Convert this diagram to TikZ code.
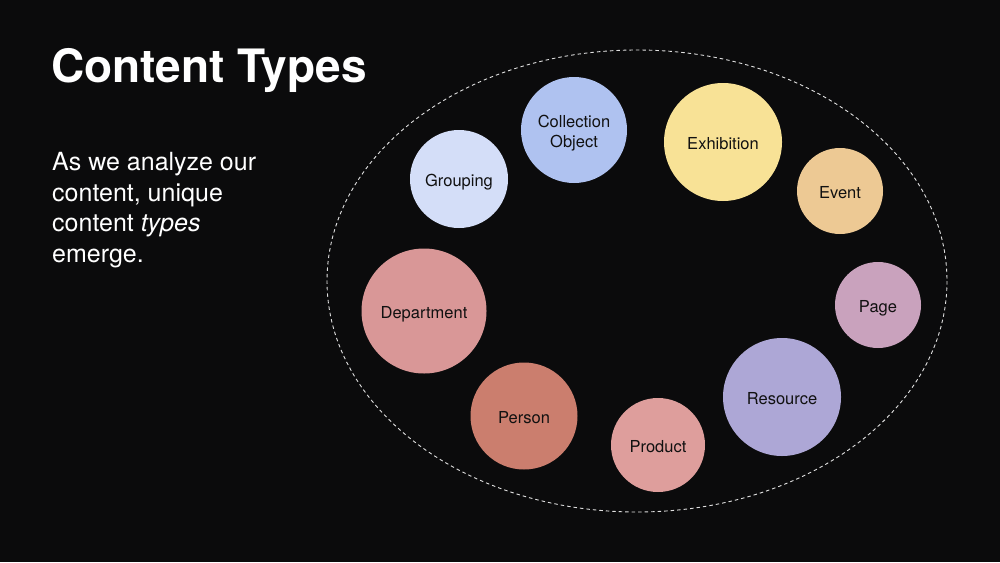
\documentclass[tikz,border=0pt]{standalone}
\usepackage{fontspec}
\setmainfont{TeX Gyre Heros}
\definecolor{bgc}{HTML}{0B0B0C}
\definecolor{cGroup}{HTML}{D4DEF8}
\definecolor{cColl}{HTML}{AFC2F0}
\definecolor{cExhib}{HTML}{F8E296}
\definecolor{cEvent}{HTML}{EDC994}
\definecolor{cPage}{HTML}{C9A2BD}
\definecolor{cRes}{HTML}{ADA7D6}
\definecolor{cProd}{HTML}{DE9E9C}
\definecolor{cPers}{HTML}{CB7E6E}
\definecolor{cDept}{HTML}{D99797}
\definecolor{ctext}{HTML}{111111}
\begin{document}
\begin{tikzpicture}[x=1pt,y=-1pt,
  ctype/.style={circle, inner sep=0pt, minimum size=#1, text=ctext,
    font=\fontsize{16.5}{20}\selectfont, align=center, text height=14pt, text depth=0pt},
  ring/.style={draw=white!88!black, line width=0.9pt, dash pattern=on 3.5pt off 3pt}]
\fill[bgc] (0,0) rectangle (1000,562);
\useasboundingbox (0,0) rectangle (1000,562);
\node[anchor=base west, inner sep=0pt, text=white,
  font=\fontsize{46}{50}\selectfont\bfseries] (title) at (51,82) {Content Types};
\node[anchor=base west, inner sep=0pt, text=white, align=left,
  font=\fontsize{25}{30.5}\selectfont] (body) at (52,262)
  {As we analyze our\\content, unique\\content \textit{types}\\emerge.};
\draw[ring] (637,281) ellipse [x radius=310, y radius=231];
\node[ctype=98pt, fill=cGroup] (grouping) at (459,179) {Grouping};
\node[ctype=106pt, fill=cColl, text height=34pt] (collection) at (574,130) {Collection\\Object};
\node[ctype=118pt, fill=cExhib] (exhibition) at (723,142) {Exhibition};
\node[ctype=86pt, fill=cEvent] (event) at (840,191) {Event};
\node[ctype=125pt, fill=cDept] (department) at (424,311) {Department};
\node[ctype=86pt, fill=cPage] (page) at (878,305) {Page};
\node[ctype=118pt, fill=cRes] (resource) at (782,397) {Resource};
\node[ctype=107pt, fill=cPers] (person) at (524,416) {Person};
\node[ctype=94pt, fill=cProd] (product) at (658,445) {Product};
\end{tikzpicture}
\end{document}
